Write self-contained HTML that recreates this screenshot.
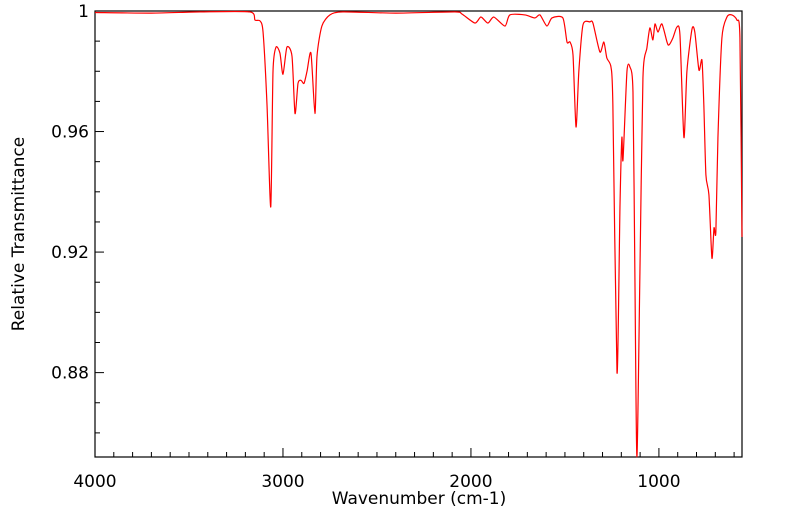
<!DOCTYPE html>
<html><head><meta charset="utf-8"><style>
body{margin:0;background:#fff;}
svg{display:block;font-family:"DejaVu Sans","Liberation Sans",sans-serif;}
</style></head><body>
<svg id="chart" width="799" height="516" viewBox="0 0 799 516"></svg>
<script>
const wavenumbers=[4000,3700,3441,3176,3149,3122,3106,3085,3065,3053,3037,3016,3000,2979,2952,2936,2920,2904,2888,2872,2851,2830,2819,2793,2750,2681,2400,2085,2048,1979,1947,1910,1878,1819,1793,1713,1660,1633,1596,1569,1511,1489,1473,1457,1441,1426,1404,1367,1351,1314,1293,1277,1255,1245,1223,1207,1197,1191,1170,1154,1138,1128,1117,1101,1085,1064,1048,1032,1021,1005,984,957,947,926,904,888,867,851,824,809,787,771,761,750,734,718,707,697,686,665,638,612,585,569,558];
const transmittance=[0.9995,0.9993,0.9997,0.9997,0.997,0.9967,0.993,0.969,0.935,0.980,0.988,0.986,0.979,0.988,0.985,0.966,0.976,0.977,0.976,0.980,0.986,0.966,0.985,0.995,0.9987,0.9997,0.9993,0.9997,0.999,0.996,0.998,0.996,0.998,0.995,0.9987,0.9987,0.9977,0.9987,0.995,0.9977,0.9977,0.9897,0.9897,0.9854,0.9615,0.980,0.9954,0.9964,0.996,0.9864,0.9897,0.9844,0.9814,0.969,0.880,0.9357,0.958,0.9506,0.980,0.9814,0.9731,0.9134,0.852,0.9134,0.9778,0.9877,0.9944,0.9904,0.9957,0.993,0.9957,0.9897,0.9887,0.991,0.9947,0.992,0.958,0.980,0.994,0.993,0.9804,0.9837,0.9688,0.9456,0.939,0.918,0.928,0.9267,0.958,0.991,0.998,0.9987,0.997,0.991,0.925];
const xTickLabels=[4000,3000,2000,1000];
const yTickLabels=[1,0.96,0.92,0.88];
const X0=95,X1=742,Y0=11,Y1=457,WMAX=4000,WMIN=558,TMIN=0.852,TMAX=1.0;
const xs=w=>X0+(WMAX-w)/(WMAX-WMIN)*(X1-X0);
const ys=t=>Y0+(TMAX-t)/(TMAX-TMIN)*(Y1-Y0);
const NS="http://www.w3.org/2000/svg";
const svg=document.getElementById('chart');
function mk(tag,attrs){const e=document.createElementNS(NS,tag);for(const k in attrs)e.setAttribute(k,attrs[k]);svg.appendChild(e);return e;}
const frame=mk('rect',{x:X0,y:Y0,width:X1-X0,height:Y1-Y0,fill:'none',stroke:'#000','stroke-width':1.2});


for(let w=4000;w>WMIN;w-=100){
  const major=w%1000===0;const x=xs(w);
  const t=mk('line',{x1:x,x2:x,y1:Y1,y2:Y1-(major?9:5),stroke:'#000','stroke-width':1});
  
  
}
xTickLabels.forEach(v=>{
  const t=mk('text',{x:xs(v),y:487,'text-anchor':'middle','font-size':17});
  t.textContent=v;
  
  
});
for(let k=0;k<=14;k++){
  const v=1-k*0.01;const y=ys(v);const major=k%4===0;
  const t=mk('line',{x1:X0,x2:X0+(major?9:5),y1:y,y2:y,stroke:'#000','stroke-width':1});
  
  
}
yTickLabels.forEach(v=>{
  const t=mk('text',{x:89,y:ys(v)+6,'text-anchor':'end','font-size':17});
  t.textContent=v;
  
  
});
const xt=mk('text',{x:419,y:504,'text-anchor':'middle','font-size':17});
xt.textContent='Wavenumber (cm-1)';


const yt=mk('text',{x:0,y:0,'text-anchor':'middle','font-size':17,transform:'translate(24,234) rotate(-90)'});
yt.textContent='Relative Transmittance';


const P=wavenumbers.map((w,i)=>[xs(w),ys(transmittance[i])]);
let d='M'+P[0][0].toFixed(2)+','+P[0][1].toFixed(2);
const k=0.12;
for(let i=0;i<P.length-1;i++){
  const p0=P[Math.max(0,i-1)],p1=P[i],p2=P[i+1],p3=P[Math.min(P.length-1,i+2)];
  const c1=[p1[0]+(p2[0]-p0[0])*k,p1[1]+(p2[1]-p0[1])*k];
  const c2=[p2[0]-(p3[0]-p1[0])*k,p2[1]-(p3[1]-p1[1])*k];
  d+='C'+c1[0].toFixed(2)+','+c1[1].toFixed(2)+' '+c2[0].toFixed(2)+','+c2[1].toFixed(2)+' '+p2[0].toFixed(2)+','+p2[1].toFixed(2);
}
const p=mk('path',{d:d,fill:'none',stroke:'#ff0000','stroke-width':1.2,'stroke-linejoin':'round'});


</script>
</body></html>
